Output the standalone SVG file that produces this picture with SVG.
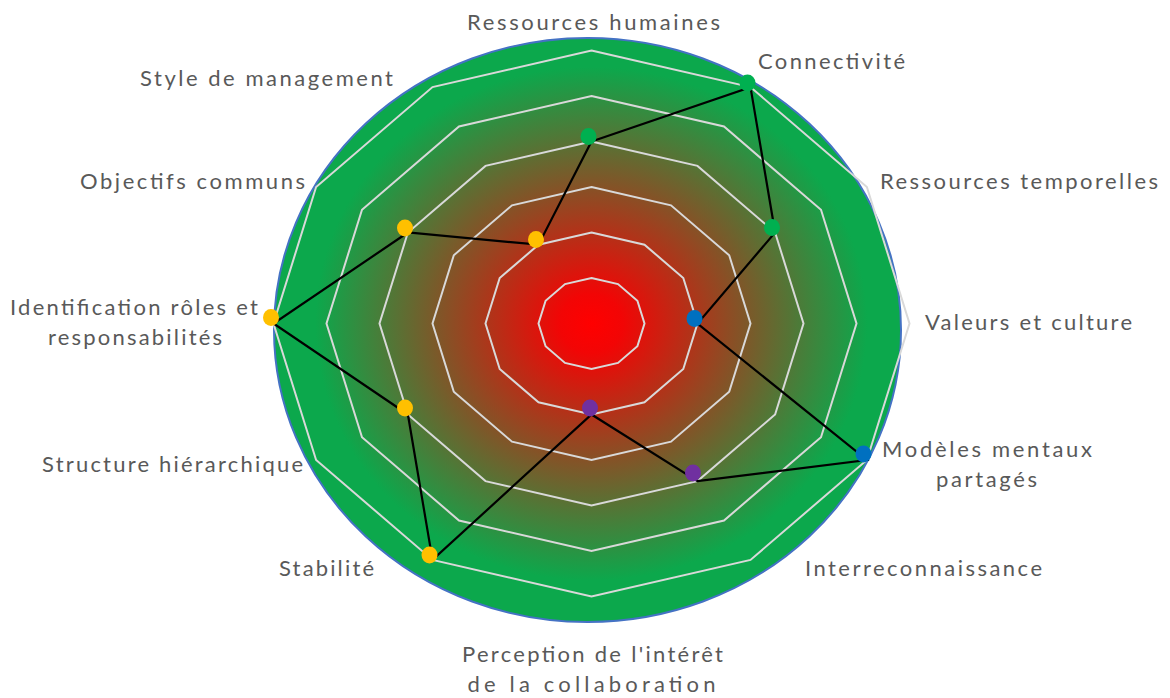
<svg xmlns="http://www.w3.org/2000/svg" width="1170" height="698" viewBox="0 0 1170 698">
<defs>
<radialGradient id="bg" cx="0.506" cy="0.489" r="0.5">
<stop offset="0" stop-color="#FF0000"/>
<stop offset="0.1" stop-color="#F20505"/>
<stop offset="0.88" stop-color="#0CA84C"/>
<stop offset="1" stop-color="#0CA84C"/>
</radialGradient>
<style>
.grid{fill:none;stroke:#D9D9D9;stroke-width:2;stroke-linejoin:miter}
.lbl{font-family:Lato,"Open Sans","Liberation Sans",sans-serif;font-size:22px;fill:#595959;text-anchor:middle}
.g{fill:#00B050}.b{fill:#0070C0}.p{fill:#7030A0}.y{fill:#FFC000}
</style>
</defs>
<rect width="1170" height="698" fill="#FFFFFF"/>
<ellipse cx="587.5" cy="330" rx="313.5" ry="292" fill="url(#bg)" stroke="#4472C4" stroke-width="2"/>
<g id="grid" transform="translate(591.5 323.5)">
<polygon class="grid" points="0,-45.5 26.5,-39.4 45.9,-22.75 53,0 45.9,22.75 26.5,39.4 0,45.5 -26.5,39.4 -45.9,22.75 -53,0 -45.9,-22.75 -26.5,-39.4"/>
<polygon class="grid" points="0,-91 53,-78.8 91.8,-45.5 106,0 91.8,45.5 53,78.8 0,91 -53,78.8 -91.8,45.5 -106,0 -91.8,-45.5 -53,-78.8"/>
<polygon class="grid" points="0,-136.5 79.5,-118.2 137.7,-68.25 159,0 137.7,68.25 79.5,118.2 0,136.5 -79.5,118.2 -137.7,68.25 -159,0 -137.7,-68.25 -79.5,-118.2"/>
<polygon class="grid" points="0,-182 106,-157.6 183.6,-91 212,0 183.6,91 106,157.6 0,182 -106,157.6 -183.6,91 -212,0 -183.6,-91 -106,-157.6"/>
<polygon class="grid" points="0,-227.5 132.5,-197 229.5,-113.75 265,0 229.5,113.75 132.5,197 0,227.5 -132.5,197 -229.5,113.75 -265,0 -229.5,-113.75 -132.5,-197"/>
<polygon class="grid" points="0,-273 159,-236.4 275.4,-136.5 318,0 275.4,136.5 159,236.4 0,273 -159,236.4 -275.4,136.5 -318,0 -275.4,-136.5 -159,-236.4"/>
</g>
<g id="connectors">
<polygon points="591.5,141.5 750.5,87.1 775.1,232.5 697.5,323.5 866.9,460 697.5,481.1 591.5,414.5 432.5,559.9 407.9,414.5 273.5,323.5 407.9,232.5 538.5,244.7" fill="none" stroke="#000000" stroke-width="2.2" stroke-linejoin="miter"/>
</g>
<g id="n-ressources-humaines"><ellipse class="g" cx="588.5" cy="136.5" rx="8" ry="8.5"/><text class="lbl" x="593.5" y="30" textLength="253" lengthAdjust="spacing">Ressources humaines</text></g>
<g id="n-connectivite"><ellipse class="g" cx="747.5" cy="83" rx="8" ry="8.5"/><text class="lbl" x="831.5" y="69" textLength="147" lengthAdjust="spacing">Connectivité</text></g>
<g id="n-ressources-temporelles"><ellipse class="g" cx="772" cy="227.5" rx="8" ry="8.5"/><text class="lbl" x="1019" y="189" textLength="278" lengthAdjust="spacing">Ressources temporelles</text></g>
<g id="n-valeurs-culture"><ellipse class="b" cx="694.5" cy="318.5" rx="8" ry="8.5"/><text class="lbl" x="1028.5" y="330" textLength="207" lengthAdjust="spacing">Valeurs et culture</text></g>
<g id="n-modeles-mentaux"><ellipse class="b" cx="863.5" cy="454" rx="8" ry="8.5"/><text class="lbl" x="987" y="457" textLength="210" lengthAdjust="spacing">Modèles mentaux</text><text class="lbl" x="986.5" y="487" textLength="101" lengthAdjust="spacing">partagés</text></g>
<g id="n-interreconnaissance"><ellipse class="p" cx="693" cy="473" rx="8" ry="8.5"/><text class="lbl" x="923.5" y="576" textLength="237" lengthAdjust="spacing">Interreconnaissance</text></g>
<g id="n-perception"><ellipse class="p" cx="590" cy="408" rx="8" ry="8.5"/><text class="lbl" x="592.5" y="662" textLength="261" lengthAdjust="spacing">Perception de l'intérêt</text><text class="lbl" x="591.5" y="692" textLength="248" lengthAdjust="spacing">de la collaboration</text></g>
<g id="n-stabilite"><ellipse class="y" cx="429.5" cy="555" rx="8" ry="8.5"/><text class="lbl" x="326.5" y="576" textLength="95" lengthAdjust="spacing">Stabilité</text></g>
<g id="n-structure"><ellipse class="y" cx="405" cy="408" rx="8" ry="8.5"/><text class="lbl" x="172.5" y="472" textLength="261" lengthAdjust="spacing">Structure hiérarchique</text></g>
<g id="n-identification"><ellipse class="y" cx="271" cy="317.5" rx="8" ry="8.5"/><text class="lbl" x="134" y="315" textLength="248" lengthAdjust="spacing">Identification rôles et</text><text class="lbl" x="135" y="345" textLength="174" lengthAdjust="spacing">responsabilités</text></g>
<g id="n-objectifs"><ellipse class="y" cx="405" cy="228" rx="8" ry="8.5"/><text class="lbl" x="192.5" y="189" textLength="225" lengthAdjust="spacing">Objectifs communs</text></g>
<g id="n-style"><ellipse class="y" cx="536" cy="239.5" rx="8" ry="8.5"/><text class="lbl" x="266.5" y="86" textLength="253" lengthAdjust="spacing">Style de management</text></g>
</svg>
